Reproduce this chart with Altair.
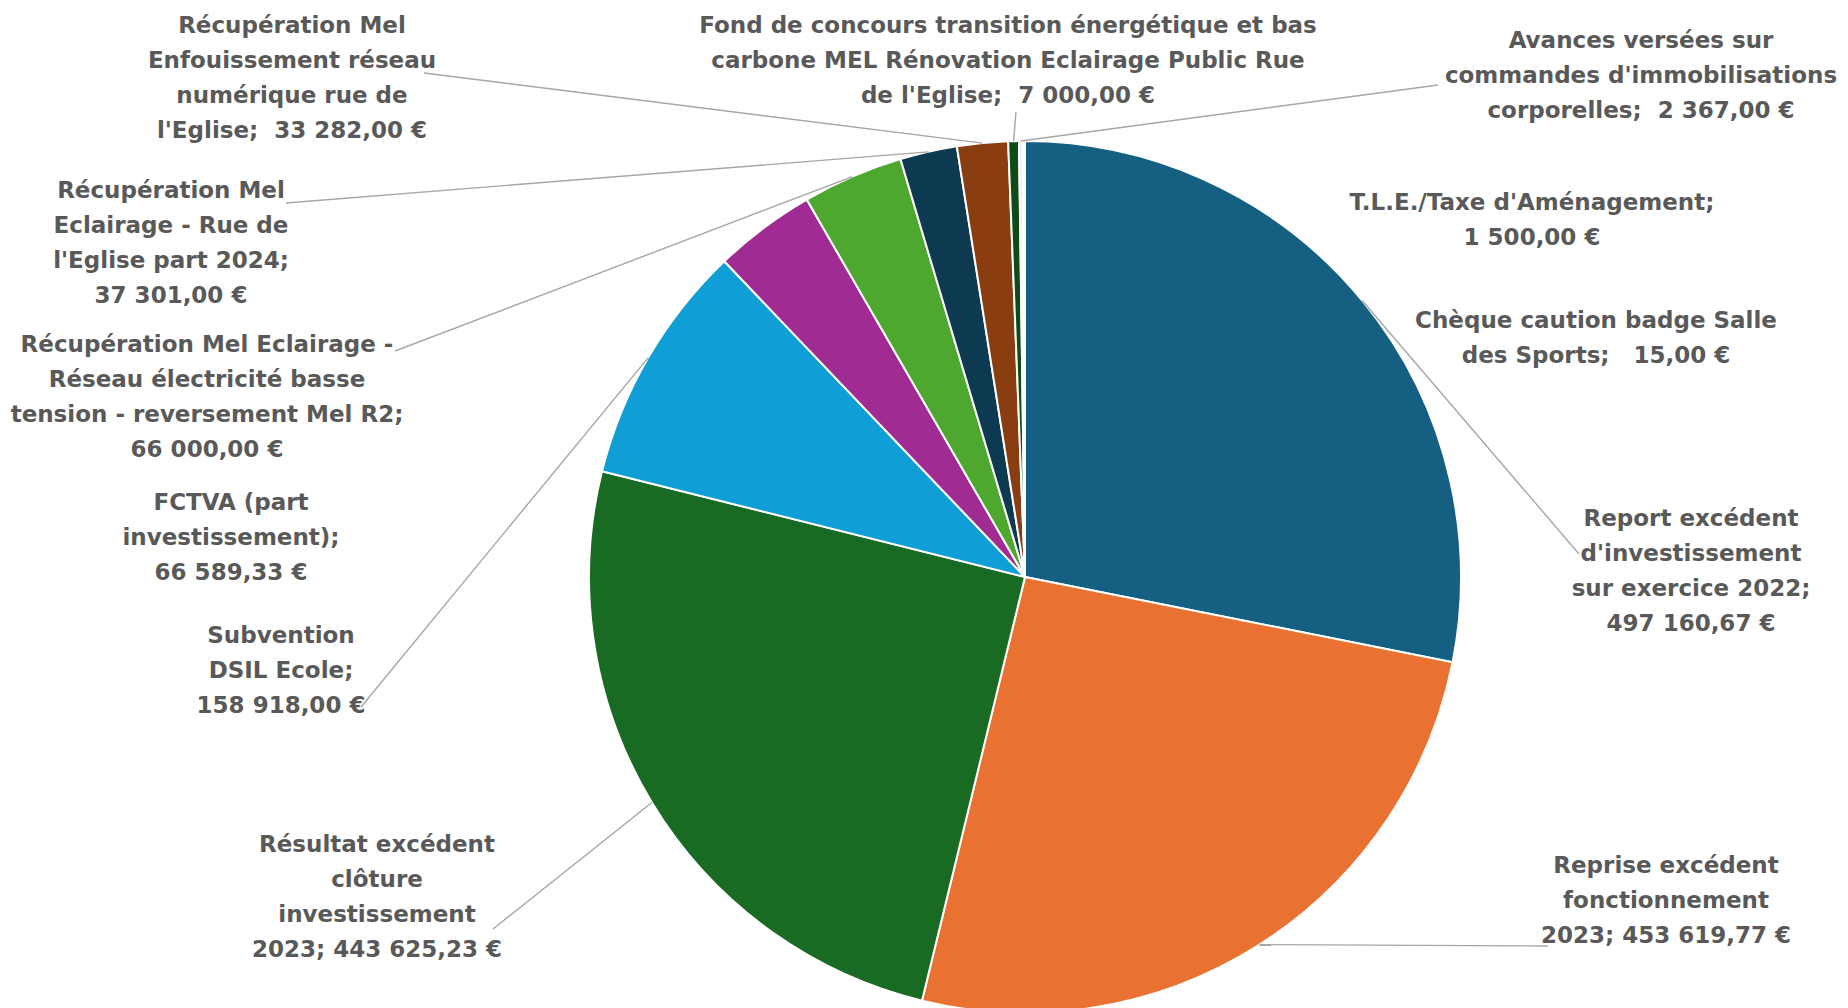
import math
import altair as alt
import pandas as pd

# ---- data ----
names = [
    "Report excédent\nd'investissement\nsur exercice 2022",
    "Reprise excédent\nfonctionnement\n2023",
    "Résultat excédent\nclôture\ninvestissement\n2023",
    "Subvention\nDSIL Ecole",
    "FCTVA (part\ninvestissement)",
    "Récupération Mel Eclairage -\nRéseau électricité basse\ntension - reversement Mel R2",
    "Récupération Mel\nEclairage - Rue de\nl'Eglise part 2024",
    "Récupération Mel\nEnfouissement réseau\nnumérique rue de\nl'Eglise",
    "Fond de concours transition énergétique et bas\ncarbone MEL Rénovation Eclairage Public Rue\nde l'Eglise",
    "Avances versées sur\ncommandes d'immobilisations\ncorporelles",
    "T.L.E./Taxe d'Aménagement",
    "Chèque caution badge Salle\ndes Sports",
]
values = [497160.67, 453619.77, 443625.23, 158918.00, 66589.33, 66000.00,
          37301.00, 33282.00, 7000.00, 2367.00, 1500.00, 15.00]
NB = "\u00a0"
separators = [";\n", "; ", "; ", ";\n", ";\n", ";\n", ";\n", ";" + NB + " ", ";" + NB + " ",
              ";" + NB + " ", ";\n", ";" + NB + NB + " "]

# ---- styles ----
colors = ["#156082", "#E97132", "#196B24", "#0F9ED5", "#A02B93", "#4EA72E",
          "#0D3A50", "#8B3D12", "#0F4A17", "#E6EEF3", "#EEF3F6", "#F4F7F9"]

# ---- layout (chart pixel coordinates) ----
CX, CY, R = 1017, 569, 436
label_x = [1683, 1658, 369, 273, 223, 199, 163, 284, 1000, 1633, 1524, 1588]
label_y = [511, 858, 837, 628, 495, 337, 183, 18, 18, 33, 195, 313]  # first line centre
# leader line start points (label side); None = no leader line
leader_start = [(1571, 546), (1540, 938), (485, 921), (353, 699), None, (387, 343),
                (278, 195), (416, 65), (1008, 104), (1430, 77), None, None]


def fmt(v):
    s = f"{v:,.2f}".replace(",", " ").replace(".", ",")
    return s + " €"


total = sum(values)
rows = []
cum = 0.0
for i, (n, v) in enumerate(zip(names, values)):
    mid = (cum + v / 2) / total * 2 * math.pi
    cum += v
    rows.append({
        "idx": i,
        "cat": n.replace("\n", " "),
        "value": v,
        "label": n + separators[i] + fmt(v),
        "lx": label_x[i],
        "ly": label_y[i],
        "ex": CX + R * math.sin(mid),
        "ey": CY - R * math.cos(mid),
    })
df = pd.DataFrame(rows)
cats = list(df["cat"])

lead_rows = []
for i, s in enumerate(leader_start):
    if s is None:
        continue
    lead_rows.append({"x1": s[0], "y1": s[1], "x2": rows[i]["ex"], "y2": rows[i]["ey"]})
lead = pd.DataFrame(lead_rows)

pie = alt.Chart(df).mark_arc(radius=R, stroke="white", strokeWidth=2).encode(
    theta=alt.Theta("value:Q", stack=True),
    color=alt.Color("cat:N", scale=alt.Scale(domain=cats, range=colors), legend=None),
    order=alt.Order("idx:Q"),
    x=alt.value(CX),
    y=alt.value(CY),
)

rules = alt.Chart(lead).mark_rule(color="#A6A6A6", strokeWidth=1.4).encode(
    x=alt.X("x1:Q", scale=None, axis=None),
    y=alt.Y("y1:Q", scale=None, axis=None),
    x2="x2:Q",
    y2="y2:Q",
)

texts = alt.Chart(df).mark_text(
    font="DejaVu Sans", fontSize=23, fontWeight="bold", color="#595959",
    lineBreak="\n", lineHeight=35, align="center", baseline="middle",
).encode(
    x=alt.X("lx:Q", scale=None, axis=None),
    y=alt.Y("ly:Q", scale=None, axis=None),
    text="label:N",
)

chart = alt.layer(pie, rules, texts).properties(
    width=1830, height=988, padding=0
).configure_view(stroke=None)

chart.save("out.html", embed_options={"renderer": "svg", "actions": False})
